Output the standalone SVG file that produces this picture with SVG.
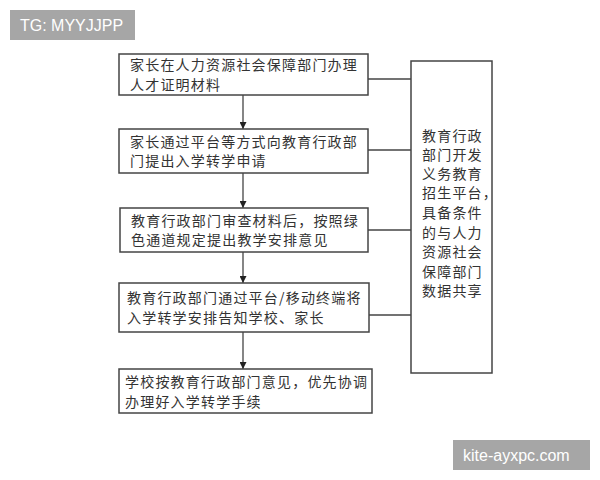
<svg xmlns="http://www.w3.org/2000/svg" width="600" height="480" viewBox="0 0 600 480">
<defs>
<marker id="ah" viewBox="0 0 10 10" refX="10" refY="5" markerWidth="7" markerHeight="7" markerUnits="userSpaceOnUse" orient="auto">
<path d="M0,0 L10,5 L0,10 z" fill="#222"/>
</marker>
<style>
.box{fill:#fff;stroke:#444;stroke-width:1.5}
.t{font-family:"Noto Sans CJK SC","Noto Sans",sans-serif;font-size:14px;fill:#333;letter-spacing:1.2px}
.c{fill:none;stroke:#444;stroke-width:1.3}
.wm{fill:#a6a6a6}
.wt{font-family:"Liberation Sans","DejaVu Sans",sans-serif;font-size:16px;fill:#fff}
</style>
</defs>
<rect width="600" height="480" fill="#fff"/>
<g id="connectors">
<line class="c" x1="243" y1="95" x2="243" y2="129" marker-end="url(#ah)"/>
<line class="c" x1="243" y1="173" x2="243" y2="208" marker-end="url(#ah)"/>
<line class="c" x1="243" y1="252" x2="243" y2="283" marker-end="url(#ah)"/>
<line class="c" x1="243" y1="332" x2="243" y2="369" marker-end="url(#ah)"/>
<line class="c" x1="368" y1="79" x2="411" y2="79"/>
<line class="c" x1="368" y1="150" x2="411" y2="150"/>
<line class="c" x1="368" y1="230" x2="411" y2="230"/>
<line class="c" x1="369" y1="315" x2="411" y2="315"/>
</g>
<g id="n1">
<rect class="box" x="119" y="54" width="249" height="41"/>
<text class="t" x="130" y="70">家长在人力资源社会保障部门办理</text>
<text class="t" x="130" y="90">人才证明材料</text>
</g>
<g id="n2">
<rect class="box" x="119" y="129" width="249" height="44"/>
<text class="t" x="130" y="147">家长通过平台等方式向教育行政部</text>
<text class="t" x="130" y="166">门提出入学转学申请</text>
</g>
<g id="n3">
<rect class="box" x="120" y="208" width="248" height="44"/>
<text class="t" x="131" y="226">教育行政部门审查材料后，按照绿</text>
<text class="t" x="131" y="245">色通道规定提出教学安排意见</text>
</g>
<g id="n4">
<rect class="box" x="119" y="283" width="250" height="49"/>
<text class="t" x="127" y="303">教育行政部门通过平台/移动终端将</text>
<text class="t" x="127" y="323">入学转学安排告知学校、家长</text>
</g>
<g id="n5">
<rect class="box" x="119" y="369" width="253" height="44"/>
<text class="t" x="125" y="387">学校按教育行政部门意见，优先协调</text>
<text class="t" x="125" y="407">办理好入学转学手续</text>
</g>
<g id="n6">
<rect class="box" x="411" y="61" width="81" height="312"/>
<text class="t" x="422" y="141">教育行政</text>
<text class="t" x="422" y="160">部门开发</text>
<text class="t" x="422" y="179">义务教育</text>
<text class="t" x="422" y="198">招生平台，</text>
<text class="t" x="422" y="218">具备条件</text>
<text class="t" x="422" y="238">的与人力</text>
<text class="t" x="422" y="257">资源社会</text>
<text class="t" x="422" y="277">保障部门</text>
<text class="t" x="422" y="296">数据共享</text>
</g>
<g id="watermarks">
<rect class="wm" x="10" y="10" width="125" height="30"/>
<text class="wt" x="20" y="31">TG: MYYJJPP</text>
<rect class="wm" x="453" y="440" width="137" height="30"/>
<text class="wt" x="463" y="461">kite-ayxpc.com</text>
</g>
</svg>
